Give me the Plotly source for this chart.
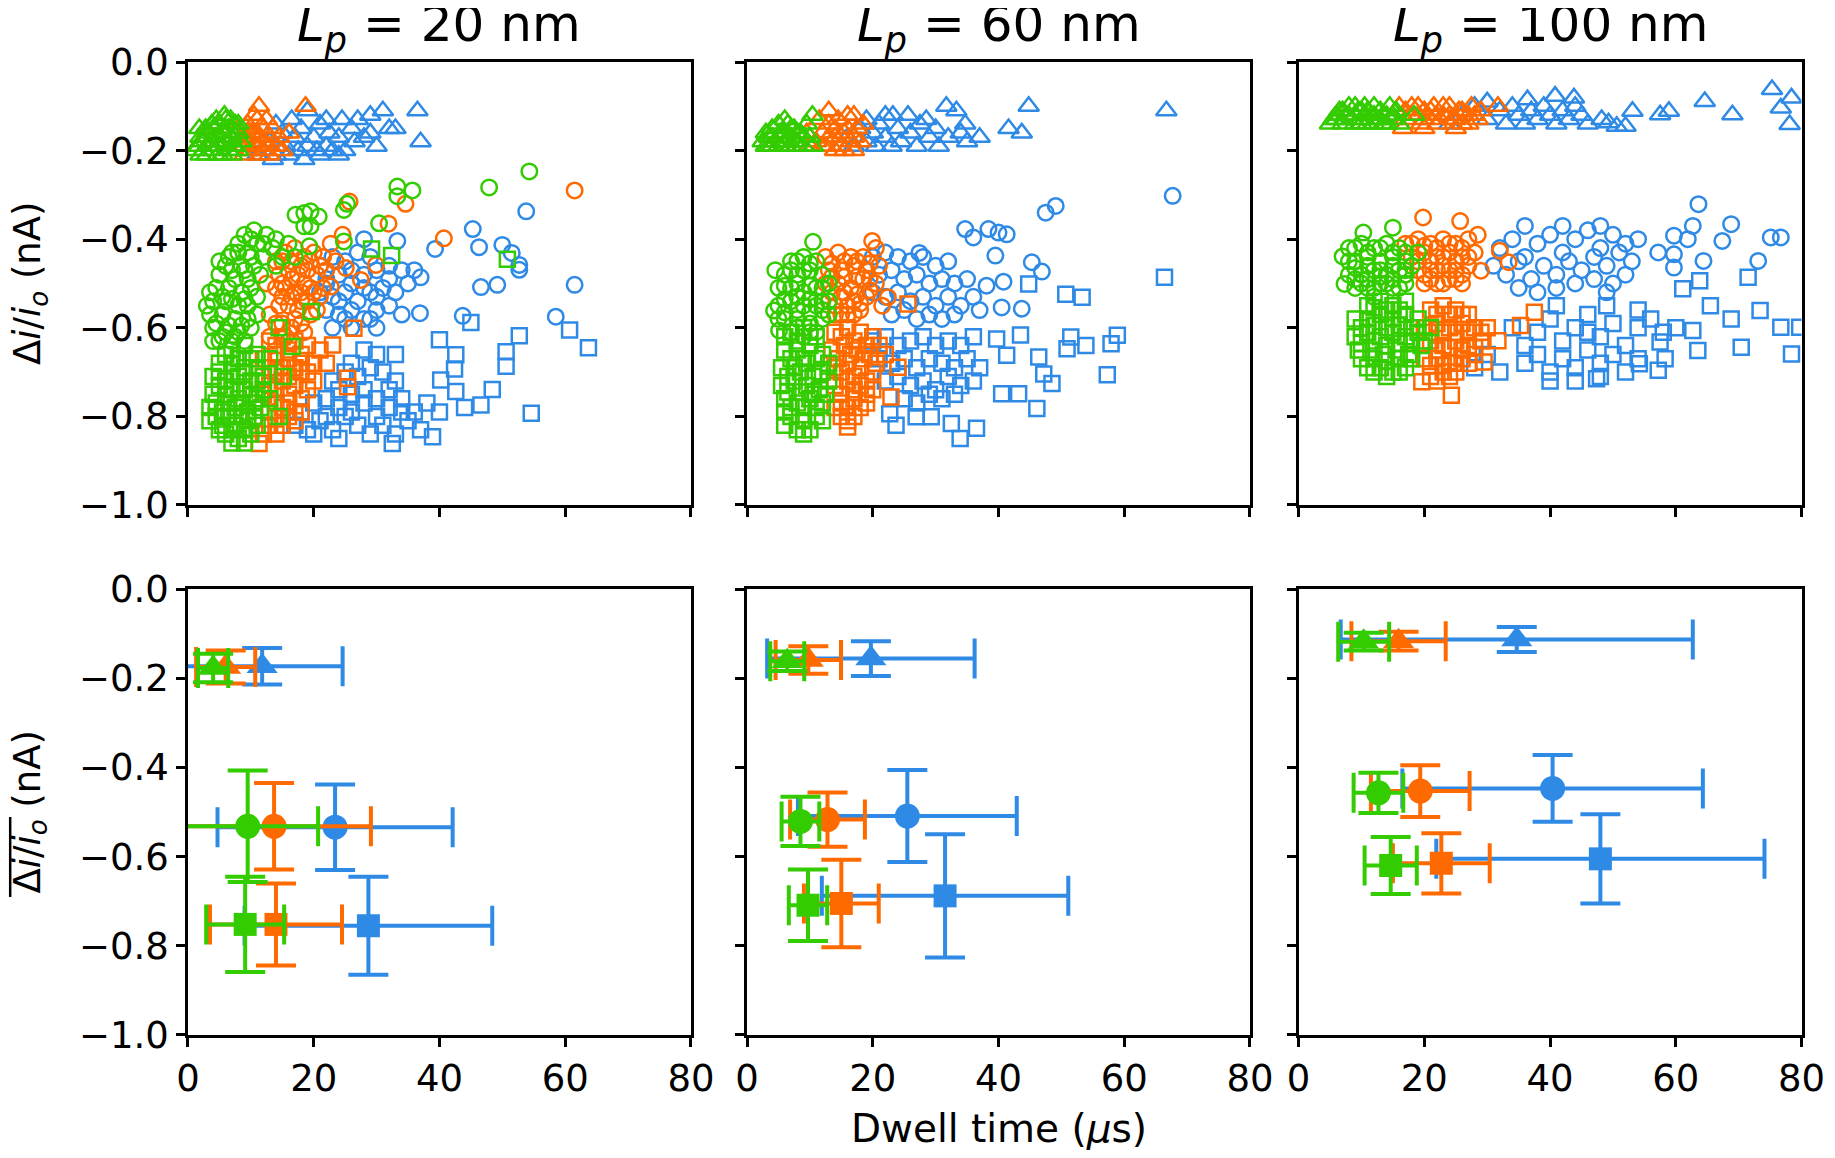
import plotly.graph_objects as go
from plotly.subplots import make_subplots

# series colours
blue = '#2f8ae6'
orange = '#ff6a00'
green = '#33cc00'

panel_titles = ['<i>L</i><sub><i>p</i></sub> = 20 nm',
                '<i>L</i><sub><i>p</i></sub> = 60 nm',
                '<i>L</i><sub><i>p</i></sub> = 100 nm']
x_ticks = [0, 20, 40, 60, 80]
y_ticks = [0.0, -0.2, -0.4, -0.6, -0.8, -1.0]

# ---- top row: single events, (dwell time in us, delta i / io in nA) ----
# Lp = 20 nm
lp20_blue_tri = [(12, -0.2), (13, -0.18), (14, -0.21), (15, -0.16), (15.5, -0.19), (16, -0.21), (17, -0.17),
                 (17.5, -0.2), (18, -0.15), (19, -0.19), (19, -0.11), (20, -0.17), (20.5, -0.2), (21, -0.14),
                 (22, -0.13), (22, -0.19), (22.5, -0.16), (23, -0.2), (24, -0.17), (24.5, -0.13), (25, -0.2),
                 (26, -0.15), (26.5, -0.18), (27, -0.13), (28, -0.17), (29, -0.12), (29, -0.16), (30, -0.19),
                 (31, -0.11), (32, -0.15), (33, -0.15), (36.5, -0.11), (37, -0.18), (14, -0.14), (16.5, -0.13),
                 (11, -0.21), (13.5, -0.22), (18.5, -0.22), (21, -0.21), (24, -0.21)]
lp20_blue_circ = [(21, -0.46), (23, -0.44), (25, -0.45), (27, -0.43), (29, -0.44), (22, -0.49), (24, -0.48),
                  (26, -0.5), (28, -0.48), (30, -0.47), (32, -0.46), (34, -0.47), (36, -0.47), (21, -0.52),
                  (23, -0.53), (25, -0.52), (27, -0.54), (29, -0.52), (31, -0.51), (33, -0.52), (35, -0.5),
                  (22, -0.56), (24, -0.57), (26, -0.56), (28, -0.58), (30, -0.56), (32, -0.55), (34, -0.57),
                  (26, -0.6), (30, -0.6), (23, -0.6), (37, -0.486), (36.9, -0.567), (33.3, -0.404), (28, -0.4),
                  (22, -0.5), (24, -0.54), (26, -0.47), (28, -0.51), (30, -0.53), (32, -0.49), (25, -0.58),
                  (29, -0.58),
                  (53.8, -0.337), (45.3, -0.377), (46.3, -0.418), (39.3, -0.422), (50, -0.413), (51.5, -0.431),
                  (52.7, -0.458), (52.7, -0.469), (49.2, -0.503), (46.6, -0.508), (61.5, -0.503), (58.5, -0.575),
                  (43.7, -0.573)]
lp20_blue_sq = [(17, -0.82), (19, -0.83), (21, -0.81), (23, -0.83), (25, -0.8), (27, -0.82), (29, -0.84),
                (31, -0.82), (33, -0.84), (35, -0.81), (37, -0.83), (20, -0.77), (22, -0.76), (24, -0.78),
                (26, -0.75), (28, -0.77), (30, -0.76), (32, -0.78), (34, -0.76), (36, -0.79), (38, -0.77),
                (23, -0.72), (25, -0.7), (27, -0.71), (29, -0.69), (31, -0.7), (33, -0.72), (30, -0.66),
                (33, -0.66), (28, -0.65), (18, -0.79), (22, -0.8), (26, -0.79), (30, -0.8), (34, -0.79),
                (24, -0.74), (28, -0.74), (32, -0.74), (26, -0.68), (20, -0.84), (24, -0.85),
                (32.5, -0.861), (38.9, -0.846), (40, -0.627), (42.6, -0.661),
                (42.4, -0.693), (40.2, -0.718), (42.6, -0.744), (45, -0.588), (46.6, -0.774), (48.4, -0.739),
                (50.6, -0.654), (50.6, -0.687), (52.7, -0.618), (54.6, -0.793), (60.7, -0.605), (63.7, -0.645),
                (40, -0.79), (44, -0.78)]
lp20_orange_tri = [(8, -0.15), (8.5, -0.19), (9, -0.17), (9, -0.21), (9.5, -0.14), (10, -0.18), (10, -0.2),
                   (10.5, -0.16), (11, -0.13), (11, -0.19), (11.5, -0.21), (11.5, -0.17), (12, -0.15), (12.5, -0.19),
                   (12.5, -0.13), (13, -0.17), (13, -0.21), (13.5, -0.15), (14, -0.19), (14.5, -0.17), (11.3, -0.1),
                   (18.7, -0.1), (16.1, -0.16), (15, -0.2), (9.5, -0.2), (10.5, -0.12), (9, -0.19), (10, -0.16),
                   (11, -0.16), (12, -0.18), (13, -0.19), (8.5, -0.17), (12, -0.2)]
lp20_orange_circ = [(14, -0.45), (15.5, -0.43), (17, -0.42), (18.5, -0.44), (20, -0.43), (21.5, -0.44),
                    (14.5, -0.48), (16, -0.47), (17.5, -0.48), (19, -0.47), (20.5, -0.48), (22, -0.47),
                    (14, -0.51), (15.5, -0.51), (17, -0.52), (18.5, -0.5), (20, -0.52), (21.5, -0.51),
                    (14.5, -0.55), (16, -0.55), (17.5, -0.56), (19, -0.54), (20.5, -0.56), (15, -0.59),
                    (16.5, -0.6), (18, -0.59), (13, -0.57), (12.5, -0.5), (13, -0.62), (16, -0.63),
                    (15, -0.45), (16.5, -0.45), (18, -0.46), (19.5, -0.45), (21, -0.46), (15, -0.5),
                    (16.5, -0.49), (18, -0.52), (19.5, -0.51), (21, -0.53), (15, -0.53), (16.5, -0.53),
                    (18, -0.54), (19.5, -0.57), (17, -0.58), (14, -0.59), (15.5, -0.62), (18.5, -0.61),
                    (61.5, -0.29), (25.7, -0.315), (34.6, -0.32), (31.9, -0.365), (40.7, -0.398), (24.6, -0.39),
                    (22.7, -0.41), (25.1, -0.465), (27.5, -0.492), (29.9, -0.458), (22.7, -0.507), (23.5, -0.45)]
lp20_orange_sq = [(13, -0.63), (15, -0.62), (17, -0.63), (19, -0.64), (21, -0.65), (12, -0.67), (14, -0.66),
                  (16, -0.67), (18, -0.66), (20, -0.68), (12, -0.71), (14, -0.7), (16, -0.71), (18, -0.7),
                  (20, -0.72), (12, -0.75), (14, -0.74), (16, -0.75), (18, -0.76), (13, -0.79), (15, -0.78),
                  (17, -0.79), (13, -0.82), (15, -0.82), (17, -0.81), (14, -0.64), (16, -0.65), (18, -0.68),
                  (13, -0.69), (15, -0.69), (17, -0.69), (19, -0.7), (13, -0.73), (15, -0.72), (17, -0.73),
                  (19, -0.74), (14, -0.77), (16, -0.77), (18, -0.79), (14, -0.8), (16, -0.8), (12, -0.84),
                  (14, -0.84), (11.3, -0.861), (26.4, -0.601),
                  (25.4, -0.714), (25.4, -0.733), (23, -0.639), (22, -0.68), (10.5, -0.8)]
lp20_green_tri = [(1.5, -0.19), (2, -0.17), (2.5, -0.2), (3, -0.16), (3, -0.21), (3.5, -0.18), (4, -0.15),
                  (4, -0.2), (4.5, -0.17), (5, -0.14), (5, -0.19), (5.5, -0.21), (5.5, -0.16), (6, -0.13),
                  (6, -0.18), (6.5, -0.2), (6.5, -0.15), (7, -0.17), (7, -0.21), (7.5, -0.14), (7.5, -0.19),
                  (8, -0.16), (8, -0.2), (2, -0.21), (1.2, -0.2), (4.8, -0.21), (3.8, -0.14), (8.5, -0.18),
                  (5.8, -0.12), (2.8, -0.15), (1.8, -0.15), (2.2, -0.18), (3.2, -0.19), (4.2, -0.18),
                  (5.2, -0.17), (6.2, -0.16), (7.2, -0.19), (6.8, -0.13), (4.5, -0.13), (3, -0.17), (8, -0.14)]
lp20_green_circ = [(9, -0.39), (10.5, -0.38), (12.5, -0.39), (14, -0.4), (8, -0.41), (11, -0.41), (13.5, -0.42),
                   (7, -0.43), (9.5, -0.43), (12, -0.44), (6, -0.46), (8.5, -0.46), (10.5, -0.46), (5, -0.48),
                   (7.5, -0.49), (9.5, -0.49), (4.5, -0.51), (6.5, -0.51), (8.5, -0.52), (10, -0.51), (4, -0.54),
                   (6, -0.54), (8, -0.55), (9.5, -0.55), (3.5, -0.57), (5.5, -0.57), (7.5, -0.58), (9.5, -0.58),
                   (4, -0.6), (6, -0.61), (8, -0.61), (10, -0.6), (5, -0.63), (7, -0.63), (9, -0.63), (11, -0.57),
                   (11.5, -0.48), (14, -0.46), (15, -0.44), (5, -0.45), (7, -0.47), (9, -0.47), (3.5, -0.52),
                   (5.5, -0.53), (7, -0.535), (9, -0.535), (4.5, -0.59), (6.5, -0.595), (8.5, -0.595),
                   (5.5, -0.62), (7.5, -0.62), (10, -0.44), (12, -0.41), (10, -0.4), (6.5, -0.44), (3, -0.55),
                   (11, -0.53), (4, -0.63), (8, -0.43),
                   (17.1, -0.345), (18.5, -0.341), (19.5, -0.337),
                   (20.8, -0.349), (18.5, -0.371), (19.5, -0.371), (24.8, -0.334), (25.3, -0.32), (30.4, -0.364),
                   (24.8, -0.405), (19.3, -0.416), (33.3, -0.281), (35.7, -0.29), (33.3, -0.303), (47.9, -0.283),
                   (54.3, -0.247), (16, -0.41), (17, -0.44)]
lp20_green_sq = [(7, -0.65), (9, -0.64), (11, -0.66), (5, -0.68), (7, -0.68), (9, -0.69), (11, -0.69),
                 (13, -0.67), (4, -0.71), (6, -0.72), (8, -0.71), (10, -0.72), (12, -0.71), (4, -0.75),
                 (6, -0.75), (8, -0.76), (10, -0.75), (12, -0.74), (3.5, -0.78), (5.5, -0.79), (7.5, -0.78),
                 (9.5, -0.79), (11.5, -0.78), (3.5, -0.81), (5.5, -0.82), (7.5, -0.82), (9.5, -0.81), (6, -0.84),
                 (8, -0.85), (10, -0.84), (13, -0.76), (14.5, -0.8), (6, -0.66), (8, -0.67), (10, -0.67),
                 (5, -0.7), (7, -0.7), (9, -0.7), (11, -0.72), (5, -0.73), (7, -0.74), (9, -0.74), (11, -0.76),
                 (4.5, -0.77), (6.5, -0.77), (8.5, -0.77), (10.5, -0.77), (4.5, -0.8), (6.5, -0.8), (8.5, -0.8),
                 (10.5, -0.8), (5, -0.83), (7, -0.83), (9, -0.83), (11, -0.82), (7, -0.86), (9, -0.86),
                 (29.2, -0.422), (32.4, -0.437),
                 (50.8, -0.445), (19.6, -0.563), (16.6, -0.642), (14.5, -0.6), (15.2, -0.71)]

# Lp = 60 nm
lp60_blue_tri = [(15, -0.19), (16, -0.17), (17, -0.19), (18, -0.15), (19, -0.18), (20, -0.16), (20.5, -0.19),
                 (21, -0.14), (22, -0.17), (23, -0.19), (23.2, -0.12), (24, -0.15), (24.5, -0.18), (25.6, -0.12),
                 (26, -0.16), (27, -0.19), (27.5, -0.14), (28.5, -0.13), (29, -0.17), (30, -0.15), (30.5, -0.19),
                 (31.7, -0.1), (32, -0.17), (33.3, -0.11), (34, -0.16), (34.7, -0.14), (35, -0.18), (37, -0.17),
                 (41.6, -0.15), (43.7, -0.16), (44.8, -0.1), (66.7, -0.11), (19, -0.13), (22, -0.12)]
lp60_blue_circ = [(20, -0.44), (22, -0.43), (24, -0.44), (26, -0.45), (28, -0.44), (30, -0.46), (32, -0.45),
                  (21, -0.48), (23, -0.47), (25, -0.49), (27, -0.48), (29, -0.5), (31, -0.49), (33, -0.5),
                  (35, -0.49), (20, -0.52), (22, -0.53), (24, -0.52), (26, -0.54), (28, -0.53), (30, -0.55),
                  (32, -0.53), (34, -0.55), (36, -0.53), (23, -0.57), (25, -0.56), (27, -0.58), (29, -0.57),
                  (31, -0.58), (33, -0.57), (37, -0.56), (47.5, -0.34), (49.1, -0.325), (67.7, -0.302),
                  (34.7, -0.377), (38.4, -0.377), (41.3, -0.389), (40, -0.385), (36, -0.396), (27.4, -0.431),
                  (39.5, -0.437), (45.3, -0.452), (46.9, -0.473), (40.8, -0.496), (43.7, -0.557), (40.5, -0.554),
                  (38.1, -0.505)]
lp60_blue_sq = [(20, -0.63), (22, -0.62), (24, -0.64), (26, -0.63), (28, -0.62), (30, -0.64), (32, -0.63),
                (34, -0.64), (36, -0.62), (21, -0.67), (23, -0.68), (25, -0.67), (27, -0.69), (29, -0.67),
                (31, -0.68), (33, -0.69), (35, -0.67), (37, -0.69), (22, -0.72), (24, -0.71), (26, -0.73),
                (28, -0.72), (30, -0.74), (32, -0.71), (34, -0.73), (36, -0.72), (25, -0.76), (27, -0.77),
                (29, -0.75), (31, -0.76), (33, -0.75), (66.4, -0.486), (44.8, -0.501), (50.7, -0.524),
                (53.3, -0.531), (43.5, -0.616), (51.5, -0.621), (53.9, -0.64), (50.9, -0.647), (58.9, -0.617),
                (57.9, -0.636), (57.3, -0.706), (41.3, -0.662), (46.4, -0.666), (47.2, -0.704), (48.5, -0.726),
                (40.5, -0.749), (43.2, -0.749), (46.1, -0.782), (36.5, -0.827), (33.9, -0.85), (32.5, -0.816),
                (29.3, -0.801), (26.9, -0.801), (23.7, -0.82), (22.7, -0.794), (39.7, -0.625)]
lp60_orange_tri = [(11, -0.18), (12, -0.16), (12.5, -0.19), (13, -0.11), (13, -0.14), (14, -0.17), (14.5, -0.13),
                   (15, -0.19), (15.5, -0.16), (16, -0.12), (16.5, -0.18), (17, -0.12), (17.5, -0.15), (18, -0.18),
                   (10, -0.19), (9.5, -0.16), (11.5, -0.13), (14, -0.2), (17, -0.2), (18.5, -0.14), (12, -0.19),
                   (13, -0.17), (14, -0.15), (15, -0.17), (16, -0.15), (17, -0.17), (15.5, -0.2)]
lp60_orange_circ = [(12.5, -0.44), (14.5, -0.43), (16.5, -0.44), (18.5, -0.44), (13, -0.47), (15, -0.47),
                    (17, -0.46), (19, -0.47), (21, -0.46), (12.5, -0.5), (14.5, -0.5), (16.5, -0.51), (18.5, -0.49),
                    (20.5, -0.5), (13, -0.54), (15, -0.53), (17, -0.54), (19, -0.53), (14, -0.57), (16, -0.57),
                    (18, -0.56), (13.5, -0.455), (15.5, -0.45), (17.5, -0.45), (19.5, -0.455), (13.5, -0.485),
                    (15.5, -0.485), (17.5, -0.485), (19.5, -0.49), (13.5, -0.52), (15.5, -0.52), (17.5, -0.525),
                    (19.5, -0.515), (14, -0.55), (16, -0.55), (18, -0.545), (15, -0.57), (17, -0.57),
                    (19.9, -0.404), (20.5, -0.42), (22.4, -0.531), (21.5, -0.55)]
lp60_orange_sq = [(14, -0.61), (16, -0.6), (18, -0.61), (20, -0.62), (13.5, -0.65), (15.5, -0.64), (17.5, -0.65),
                  (19.5, -0.66), (21, -0.64), (14, -0.69), (16, -0.68), (18, -0.69), (20, -0.7), (14, -0.73),
                  (16, -0.72), (18, -0.73), (20, -0.74), (15, -0.77), (17, -0.76), (19, -0.77), (15, -0.8),
                  (17, -0.8), (15, -0.62), (17, -0.63), (19, -0.64), (14.5, -0.67), (16.5, -0.66), (18.5, -0.67),
                  (20.5, -0.68), (15, -0.7), (17, -0.71), (19, -0.72), (15, -0.75), (17, -0.74), (19, -0.75),
                  (16, -0.78), (18, -0.78), (16, -0.81), (14, -0.78),
                  (25.6, -0.546), (24, -0.689), (22.9, -0.756), (16, -0.824), (22, -0.66)]
lp60_green_tri = [(2.5, -0.18), (3, -0.16), (3.5, -0.19), (4, -0.15), (4.5, -0.18), (5, -0.14), (5, -0.19),
                  (5.5, -0.16), (6, -0.18), (6.5, -0.14), (7, -0.17), (7, -0.19), (7.5, -0.15), (8, -0.18),
                  (8.5, -0.16), (9, -0.19), (9.5, -0.14), (10, -0.17), (10.5, -0.19), (3, -0.19), (6, -0.13),
                  (4, -0.19), (10.4, -0.12), (4, -0.17), (5, -0.17), (6, -0.16), (7, -0.15), (8, -0.16),
                  (9, -0.17), (3.5, -0.17), (8, -0.19), (6, -0.19)]
lp60_green_circ = [(7, -0.45), (9, -0.44), (11, -0.45), (6, -0.48), (8, -0.48), (10, -0.47), (12, -0.48),
                   (5, -0.51), (7, -0.51), (9, -0.52), (11, -0.51), (13, -0.5), (5, -0.55), (7, -0.54), (9, -0.55),
                   (11, -0.55), (13, -0.54), (6, -0.58), (8, -0.58), (10, -0.59), (12, -0.58), (7, -0.61),
                   (9, -0.62), (11, -0.61), (8, -0.45), (10, -0.455), (6, -0.505), (8, -0.5), (10, -0.505),
                   (12, -0.51), (6, -0.535), (8, -0.53), (10, -0.535), (12, -0.54), (6, -0.565), (8, -0.56),
                   (10, -0.565), (12, -0.56), (8, -0.6), (10, -0.61), (5, -0.58), (13, -0.57), (7, -0.47),
                   (9, -0.47), (10.5, -0.406), (4.3, -0.561), (5.1, -0.606), (4.5, -0.47)]
lp60_green_sq = [(7, -0.61), (9, -0.6), (11, -0.62), (6, -0.65), (8, -0.65), (10, -0.64), (12, -0.66),
                 (5.5, -0.69), (7.5, -0.69), (9.5, -0.68), (11.5, -0.7), (13, -0.68), (5.5, -0.73), (7.5, -0.72),
                 (9.5, -0.73), (11.5, -0.74), (13, -0.72), (6, -0.76), (8, -0.77), (10, -0.76), (12, -0.77),
                 (7, -0.8), (9, -0.81), (11, -0.8), (8, -0.83), (10, -0.83), (6, -0.79), (6, -0.62), (8, -0.63),
                 (10, -0.62), (7, -0.67), (9, -0.67), (11, -0.67), (6.5, -0.71), (8.5, -0.7), (10.5, -0.71),
                 (12, -0.7), (6.5, -0.745), (8.5, -0.745), (10.5, -0.75), (12.5, -0.75), (7, -0.78), (9, -0.78),
                 (11, -0.78), (9, -0.84), (6, -0.82), (12, -0.81)]

# Lp = 100 nm
lp100_blue_tri = [(26, -0.12), (28, -0.1), (30, -0.13), (32, -0.11), (33, -0.14), (34, -0.1), (35, -0.12),
                  (36, -0.14), (37, -0.11), (38, -0.13), (39, -0.1), (40, -0.12), (41, -0.14), (42, -0.11),
                  (43, -0.13), (44, -0.1), (45, -0.12), (46, -0.14), (30, -0.09), (24, -0.14), (64.6, -0.089),
                  (69, -0.119), (75.3, -0.062), (78.4, -0.081), (76.7, -0.104), (78.1, -0.141), (57.5, -0.119),
                  (58.9, -0.111), (53.1, -0.111), (48.2, -0.13), (49.3, -0.137), (50.6, -0.145), (52, -0.145),
                  (43.8, -0.081), (40.8, -0.077), (36.4, -0.085)]
lp100_blue_circ = [(32, -0.42), (34, -0.4), (36, -0.44), (38, -0.41), (40, -0.39), (42, -0.43), (44, -0.4),
                   (46, -0.38), (48, -0.42), (50, -0.39), (52, -0.41), (54, -0.4), (31, -0.46), (33, -0.48),
                   (35, -0.45), (37, -0.49), (39, -0.46), (41, -0.48), (43, -0.45), (45, -0.47), (47, -0.44),
                   (49, -0.46), (51, -0.43), (53, -0.45), (35, -0.51), (38, -0.52), (41, -0.51), (44, -0.5),
                   (47, -0.49), (49, -0.52), (50, -0.5), (52, -0.48), (42, -0.37), (48, -0.37), (36, -0.37),
                   (63.6, -0.321), (68.8, -0.366), (62.7, -0.37), (59.7, -0.392), (61.9, -0.4), (67.4, -0.404),
                   (75.1, -0.396), (76.7, -0.396), (64.4, -0.449), (73.1, -0.449), (59.7, -0.464), (59.7, -0.434),
                   (57.2, -0.43)]
lp100_blue_sq = [(34, -0.6), (36, -0.64), (38, -0.61), (40, -0.58), (42, -0.63), (44, -0.6), (46, -0.57),
                 (48, -0.62), (50, -0.59), (52, -0.64), (54, -0.6), (56, -0.58), (58, -0.61), (60, -0.6),
                 (36, -0.68), (38, -0.66), (40, -0.7), (42, -0.67), (44, -0.69), (46, -0.65), (48, -0.68),
                 (50, -0.66), (52, -0.7), (54, -0.67), (30, -0.66), (32, -0.7), (28, -0.69), (40, -0.72),
                 (44, -0.72), (48, -0.71), (46, -0.61), (41, -0.55), (49, -0.55), (54, -0.56), (71.5, -0.486),
                 (63.8, -0.494), (61.1, -0.512), (78.4, -0.659), (70.4, -0.644), (63.5, -0.651), (57.2, -0.696),
                 (54.2, -0.681), (47.4, -0.715), (79.7, -0.599), (76.7, -0.599), (73.4, -0.561), (68.8, -0.58),
                 (65.5, -0.55), (57.5, -0.632), (58.3, -0.67), (62.7, -0.606)]
lp100_orange_tri = [(16, -0.1), (17, -0.13), (18, -0.1), (19, -0.12), (19.5, -0.14), (20, -0.11), (21, -0.13),
                    (21.5, -0.1), (22, -0.14), (23, -0.12), (24, -0.1), (24.5, -0.13), (25.5, -0.11), (26, -0.14),
                    (27, -0.12), (27.5, -0.1), (28.5, -0.13), (29, -0.11), (31.7, -0.1), (16.6, -0.15), (20, -0.15),
                    (25, -0.15), (17, -0.11), (18, -0.12), (19, -0.1), (20, -0.13), (21, -0.11), (22, -0.12),
                    (23, -0.1), (24, -0.12), (25, -0.13), (26, -0.11), (27, -0.14), (28, -0.12)]
lp100_orange_circ = [(17, -0.41), (19, -0.4), (21, -0.41), (23, -0.4), (25, -0.41), (27, -0.4), (18, -0.44),
                     (20, -0.43), (22, -0.44), (24, -0.43), (26, -0.44), (28, -0.43), (19, -0.47), (21, -0.47),
                     (23, -0.46), (25, -0.47), (27, -0.46), (20, -0.5), (22, -0.5), (24, -0.49), (26, -0.5),
                     (18, -0.41), (20, -0.415), (22, -0.42), (24, -0.41), (26, -0.42), (19, -0.45), (21, -0.45),
                     (23, -0.44), (25, -0.45), (27, -0.44), (20, -0.48), (22, -0.47), (24, -0.47), (26, -0.48),
                     (21, -0.49), (23, -0.5), (25, -0.49),
                     (19.8, -0.351), (25.7, -0.359), (32, -0.426), (33.4, -0.452), (29, -0.471), (28.5, -0.39),
                     (17, -0.48)]
lp100_orange_sq = [(21, -0.56), (23, -0.55), (25, -0.56), (27, -0.57), (20, -0.6), (22, -0.59), (24, -0.6),
                   (26, -0.59), (28, -0.6), (30, -0.6), (21, -0.63), (23, -0.64), (25, -0.63), (27, -0.64),
                   (29, -0.63), (20, -0.67), (22, -0.67), (24, -0.68), (26, -0.67), (28, -0.66), (23, -0.7),
                   (25, -0.7), (22, -0.57), (24, -0.57), (26, -0.57), (21, -0.61), (23, -0.61), (25, -0.61),
                   (27, -0.61), (29, -0.61), (22, -0.65), (24, -0.645), (26, -0.65), (28, -0.645), (21, -0.685),
                   (23, -0.685), (25, -0.68), (27, -0.68), (22, -0.72), (24, -0.71),
                   (24.3, -0.752), (19.6, -0.722), (29.5, -0.677), (31.7, -0.629), (37.5, -0.565),
                   (35.3, -0.595), (21, -0.71)]
lp100_green_tri = [(5, -0.14), (6, -0.13), (7, -0.14), (7.5, -0.12), (8, -0.1), (8.5, -0.13), (9, -0.14),
                   (9.5, -0.11), (10, -0.13), (10.5, -0.1), (11, -0.14), (11.5, -0.12), (12, -0.1), (12.5, -0.13),
                   (13, -0.11), (13.5, -0.14), (14, -0.12), (14.5, -0.1), (15, -0.13), (15.5, -0.11), (16, -0.14),
                   (6.5, -0.11), (9, -0.1), (18.4, -0.12), (6, -0.12), (7, -0.11), (8, -0.12), (9, -0.12),
                   (10, -0.11), (11, -0.11), (12, -0.12), (13, -0.13), (14, -0.14), (15, -0.12), (5.5, -0.13),
                   (10, -0.14), (12, -0.14)]
lp100_green_circ = [(8, -0.42), (10, -0.41), (12, -0.42), (14, -0.41), (16, -0.42), (9, -0.45), (11, -0.44),
                    (13, -0.45), (15, -0.44), (17, -0.45), (8, -0.48), (10, -0.48), (12, -0.47), (14, -0.48),
                    (16, -0.47), (18, -0.46), (9, -0.51), (11, -0.51), (13, -0.5), (15, -0.51), (17, -0.5),
                    (9, -0.42), (11, -0.43), (13, -0.42), (15, -0.43), (17, -0.43), (9, -0.465), (11, -0.46),
                    (13, -0.47), (15, -0.46), (17, -0.47), (9, -0.49), (11, -0.49), (13, -0.485), (15, -0.49),
                    (17, -0.48), (10, -0.5), (12, -0.51), (14, -0.5), (16, -0.51), (8, -0.45),
                    (7.3, -0.501), (7, -0.439), (15, -0.374), (10.3, -0.385), (19, -0.43), (12, -0.53)]
lp100_green_sq = [(11, -0.55), (13, -0.54), (15, -0.55), (17, -0.54), (9, -0.58), (11, -0.58), (13, -0.57),
                  (15, -0.58), (17, -0.57), (19, -0.58), (9, -0.62), (11, -0.61), (13, -0.62), (15, -0.61),
                  (17, -0.62), (19, -0.61), (9.5, -0.65), (11.5, -0.65), (13.5, -0.66), (15.5, -0.65),
                  (17.5, -0.66), (19.5, -0.64), (11, -0.69), (13, -0.69), (15, -0.7), (17, -0.69), (21, -0.6),
                  (12, -0.555), (14, -0.56), (16, -0.56), (10, -0.6), (12, -0.595), (14, -0.6), (16, -0.595),
                  (18, -0.6), (10, -0.635), (12, -0.63), (14, -0.64), (16, -0.635), (18, -0.63), (10, -0.67),
                  (12, -0.67), (14, -0.675), (16, -0.67), (18, -0.67), (12, -0.7), (14, -0.71), (16, -0.7),
                  (20, -0.63)]

# ---- bottom row: mean and std, order is triangle, circle, square ----
lp20_blue_mean = ([11.8, 23.4, 28.7], [-0.173, -0.534, -0.755])
lp20_blue_std = ([12.8, 18.7, 19.7], [0.041, 0.096, 0.11])
lp20_orange_mean = ([6.0, 13.7, 14.0], [-0.175, -0.532, -0.752])
lp20_orange_std = ([4.7, 15.4, 10.5], [0.037, 0.097, 0.092])
lp20_green_mean = ([4.0, 9.5, 9.1], [-0.177, -0.532, -0.752])
lp20_green_std = ([2.4, 11.2, 6.2], [0.032, 0.125, 0.107])

lp60_blue_mean = ([19.7, 25.5, 31.5], [-0.156, -0.509, -0.688])
lp60_blue_std = ([16.5, 17.4, 19.6], [0.039, 0.103, 0.138])
lp60_orange_mean = ([9.75, 12.8, 15.0], [-0.159, -0.517, -0.705])
lp60_orange_std = ([5.2, 5.95, 5.95], [0.031, 0.061, 0.098])
lp60_green_mean = ([6.4, 8.5, 9.7], [-0.162, -0.521, -0.709])
lp60_green_std = ([2.7, 3.0, 3.05], [0.022, 0.055, 0.08])

lp100_blue_mean = ([34.7, 40.4, 48.0], [-0.113, -0.447, -0.605])
lp100_blue_std = ([28.0, 23.9, 26.1], [0.028, 0.075, 0.1])
lp100_orange_mean = ([15.9, 19.35, 22.7], [-0.117, -0.453, -0.615])
lp100_orange_std = ([7.5, 7.85, 7.7], [0.021, 0.058, 0.0675])
lp100_green_mean = ([10.35, 12.7, 14.65], [-0.118, -0.457, -0.62])
lp100_green_std = ([4.05, 3.95, 4.15], [0.02, 0.045, 0.064])

top_panels = [
    [(blue, lp20_blue_tri, lp20_blue_circ, lp20_blue_sq),
     (orange, lp20_orange_tri, lp20_orange_circ, lp20_orange_sq),
     (green, lp20_green_tri, lp20_green_circ, lp20_green_sq)],
    [(blue, lp60_blue_tri, lp60_blue_circ, lp60_blue_sq),
     (orange, lp60_orange_tri, lp60_orange_circ, lp60_orange_sq),
     (green, lp60_green_tri, lp60_green_circ, lp60_green_sq)],
    [(blue, lp100_blue_tri, lp100_blue_circ, lp100_blue_sq),
     (orange, lp100_orange_tri, lp100_orange_circ, lp100_orange_sq),
     (green, lp100_green_tri, lp100_green_circ, lp100_green_sq)],
]
bottom_panels = [
    [(blue, lp20_blue_mean, lp20_blue_std), (orange, lp20_orange_mean, lp20_orange_std),
     (green, lp20_green_mean, lp20_green_std)],
    [(blue, lp60_blue_mean, lp60_blue_std), (orange, lp60_orange_mean, lp60_orange_std),
     (green, lp60_green_mean, lp60_green_std)],
    [(blue, lp100_blue_mean, lp100_blue_std), (orange, lp100_orange_mean, lp100_orange_std),
     (green, lp100_green_mean, lp100_green_std)],
]

FONT = 'DejaVu Sans'
fig = make_subplots(rows=2, cols=3)

open_symbols = ['triangle-up-open', 'circle-open', 'square-open']
open_sizes = [18, 15.5, 15]
for col, panel in enumerate(top_panels, start=1):
    for color, *groups in panel:
        for sym, size, pts in zip(open_symbols, open_sizes, groups):
            fig.add_trace(go.Scatter(
                x=[p[0] for p in pts], y=[p[1] for p in pts], mode='markers',
                marker=dict(symbol=sym, size=size, color=color, opacity=1,
                            line=dict(color=color, width=2.5)),
                showlegend=False), row=1, col=col)

for col, panel in enumerate(bottom_panels, start=1):
    for color, mean, std in panel:
        fig.add_trace(go.Scatter(
            x=mean[0], y=mean[1], mode='markers',
            marker=dict(symbol=['triangle-up', 'circle', 'square'], size=[27, 25, 23], color=color,
                        opacity=1, line=dict(width=0)),
            error_x=dict(type='data', array=std[0], color=color, thickness=4, width=20),
            error_y=dict(type='data', array=std[1], color=color, thickness=4, width=20),
            showlegend=False), row=2, col=col)

# the page body keeps an 8px margin, so the figure is made 8px smaller and the
# domains are measured from the figure's own corner; the last column sits a few
# px further left so its "80" label is not clipped at the window edge
x_domains = [[0.0985, 0.3738], [0.4045, 0.6798], [0.7064, 0.9817]]
y_domains = [[0.5648, 0.9527], [0.1007, 0.4912]]

axis_common = dict(showline=True, linecolor='black', linewidth=2.5, mirror=True,
                   ticks='outside', ticklen=9, tickwidth=2.5, tickcolor='black',
                   showgrid=False, zeroline=False, automargin=False, ticklabeloverflow='allow',
                   tickfont=dict(family=FONT, size=37, color='black'))

for r in range(2):
    for c in range(3):
        n = r * 3 + c + 1
        suffix = '' if n == 1 else str(n)
        fig.layout['xaxis' + suffix].update(
            domain=x_domains[c], range=[0, 80], tickvals=x_ticks,
            showticklabels=(r == 1), **axis_common)
        fig.layout['yaxis' + suffix].update(
            domain=y_domains[r], range=[-1, 0], tickvals=y_ticks, tickformat='.1f',
            showticklabels=(c == 0), **axis_common)

annotations = []
for c, title in enumerate(panel_titles):
    annotations.append(dict(text=title, x=sum(x_domains[c]) / 2, y=0.9825, xref='paper', yref='paper',
                            xanchor='center', yanchor='middle', showarrow=False,
                            font=dict(family=FONT, size=50, color='black')))
ylabel = 'Δ<i>i</i>/<i>i</i><sub><i>o</i></sub> (nA)'
for dom in y_domains:
    annotations.append(dict(text=ylabel, x=0.0118, y=sum(dom) / 2,
                            xref='paper', yref='paper', textangle=-90, showarrow=False,
                            xanchor='center', yanchor='middle', font=dict(family=FONT, size=37, color='black')))
annotations.append(dict(text='Dwell time (<i>μ</i>s)', x=sum(x_domains[1]) / 2, y=0.0184,
                        xref='paper', yref='paper', showarrow=False, xanchor='center', yanchor='middle',
                        font=dict(family=FONT, size=39, color='black')))

fig.update_layout(
    width=1827, height=1142, margin=dict(l=0, r=0, t=0, b=0, autoexpand=False),
    paper_bgcolor='white', plot_bgcolor='white', showlegend=False,
    annotations=annotations,
    # overline on the mean label of the bottom row
    shapes=[dict(type='line', xref='paper', yref='paper', x0=0.0012, x1=0.0012, y0=0.2215, y1=0.2916,
                 line=dict(color='black', width=2.5))],
)

fig.write_html('out.html')
